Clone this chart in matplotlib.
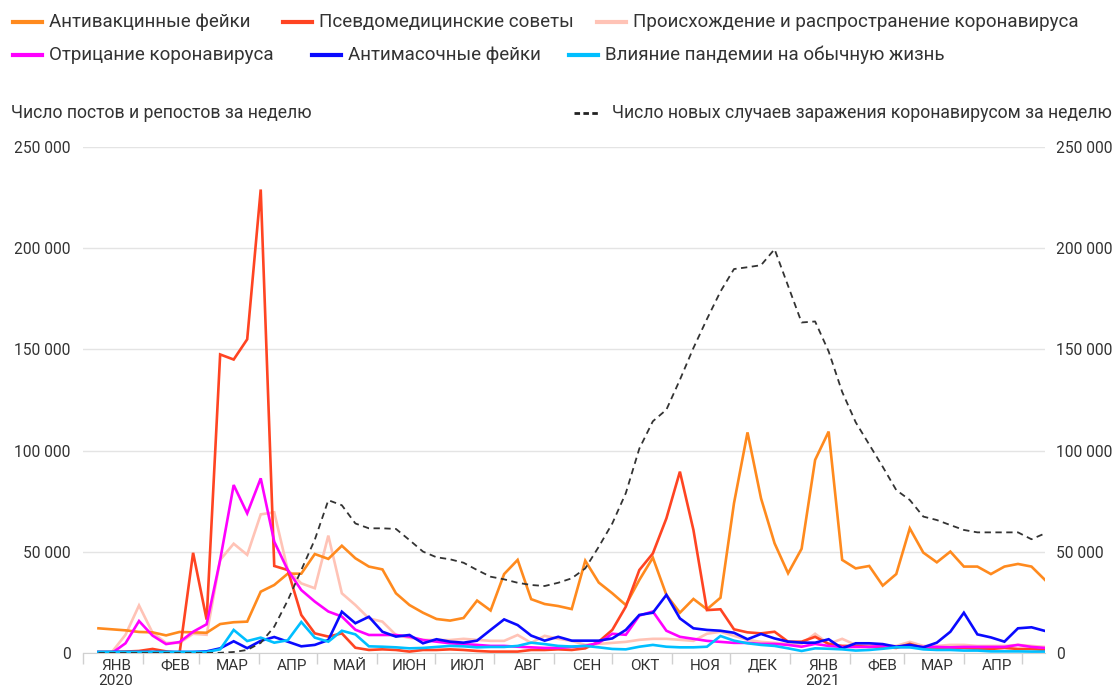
import numpy as np
import pandas as pd
import matplotlib
matplotlib.use('Agg')
import matplotlib.pyplot as plt
import matplotlib.dates as mdates
from matplotlib.lines import Line2D
from matplotlib.ticker import FuncFormatter

plt.rcParams['font.family'] = ['Roboto', 'DejaVu Sans']

# weekly points, Jan 2020 - May 2021
weeks = pd.date_range('2020-01-09', periods=71, freq='7D')

antivax = [12200, 11700, 11200, 10400, 10200, 8700, 10400, 10200, 10000, 14300,
           15200, 15500, 30300, 33600, 39200, 39200, 48900, 46500, 53000, 46800,
           42700, 41300, 29500, 23700, 19900, 16800, 16000, 17300, 25900, 21000,
           39000, 46000, 26600, 24200, 23200, 21700, 45600, 34800, 29500, 23700,
           36100, 47100, 28700, 19900, 26700, 21600, 27300, 74000, 109000, 76400,
           54200, 39400, 51500, 95400, 109400, 46000, 41800, 43000, 33300, 39000,
           61600, 49600, 44800, 50100, 42700, 42700, 39000, 42700, 44000, 42700,
           36100]
pseudo = [500, 500, 700, 1000, 2000, 800, 0, 49500, 16500, 147500,
          145000, 155000, 229000, 43000, 41000, 18800, 9700, 8100, 9700, 2600,
          1500, 1800, 1500, 700, 1500, 1500, 1800, 1500, 1000, 700,
          700, 700, 1500, 1500, 1800, 1500, 2300, 5600, 11400, 22900,
          41000, 49200, 66500, 89600, 60800, 21200, 21600, 11700, 10200, 9700,
          10500, 5600, 5600, 8000, 4500, 3500, 3500, 3000, 3000, 2500,
          4500, 2500, 2500, 2500, 2500, 2000, 2000, 2500, 2000, 2000,
          1500]
origin = [0, 500, 9000, 23500, 10000, 5000, 5000, 9500, 9000, 46000,
          54000, 48500, 68500, 69500, 41000, 34400, 32000, 58000, 29500, 23700,
          17100, 15500, 8900, 7500, 6500, 6400, 6400, 7000, 6500, 6000,
          6000, 8900, 5000, 8500, 7000, 6000, 4000, 4500, 5000, 5500,
          6500, 7000, 7000, 6500, 6000, 9500, 10500, 8500, 6500, 5500,
          5000, 4500, 4500, 9500, 4500, 7000, 4000, 4000, 3500, 3500,
          5500, 3500, 3500, 4000, 4000, 3500, 3500, 3500, 4000, 3500,
          3000]
denial = [0, 0, 4800, 15800, 8600, 4400, 5400, 10500, 14200, 46000,
          83000, 69000, 86300, 55000, 41000, 31100, 25400, 20500, 18000, 11500,
          8900, 8900, 8900, 8100, 6400, 5600, 4800, 4400, 4000, 3500,
          3500, 3100, 2800, 2500, 2500, 3000, 3500, 5000, 9500, 9000,
          18500, 20500, 11000, 8000, 7000, 6000, 5500, 5000, 5000, 4500,
          4500, 4000, 3100, 4500, 3500, 3000, 3000, 3000, 3500, 3000,
          3000, 3000, 3000, 2800, 3000, 3000, 3000, 3000, 4000, 3000,
          2500]
antimask = [500, 500, 500, 500, 500, 500, 500, 500, 800, 2300,
            5800, 2400, 6000, 7900, 5600, 3300, 4000, 6400, 20400, 14700,
            17900, 10500, 8100, 8900, 4800, 6800, 5600, 5100, 6100, 11400,
            16600, 13800, 8600, 6100, 8000, 6100, 6100, 6100, 7200, 11400,
            18800, 19900, 28700, 17100, 12200, 11400, 11000, 10000, 6800, 9400,
            7200, 5600, 5100, 5100, 6800, 2300, 4800, 4800, 4400, 3100,
            4000, 2800, 5100, 10500, 19900, 9200, 7700, 5600, 12200, 12700,
            10900]
daily_life = [500, 500, 500, 500, 500, 500, 500, 500, 500, 1800,
              11400, 5900, 7600, 5100, 6300, 15300, 7600, 5600, 11000, 9200,
              3300, 3100, 2800, 2300, 2500, 3000, 3500, 3300, 2800, 3000,
              3000, 3500, 5100, 4400, 3500, 3200, 3500, 2800, 2000, 1800,
              3100, 4000, 3100, 2800, 2800, 3100, 8400, 6100, 4800, 4000,
              3500, 2300, 1000, 2300, 2100, 1800, 1200, 1500, 2100, 2800,
              2800, 1800, 1500, 1500, 1200, 1200, 800, 800, 800, 700,
              700]
new_cases = [0, 0, 0, 0, 0, 0, 0, 0, 0, 100,
             500, 1500, 5000, 13000, 26000, 41000, 56000, 75500, 73000, 64000,
             61600, 61600, 61300, 55800, 50100, 47300, 46300, 44600, 41000, 37700,
             36400, 34700, 33600, 33100, 34700, 36900, 41800, 52500, 64000, 79000,
             101000, 114500, 120200, 135000, 150700, 165000, 178600, 189700, 190600, 191600,
             199500, 181400, 163300, 163800, 149000, 129000, 114000, 103000, 92000, 80500,
             75600, 67400, 65700, 63200, 60800, 59600, 59600, 59600, 59600, 56200,
             59100]

series_names = ['Антивакцинные фейки', 'Псевдомедицинские советы',
                'Происхождение и распространение коронавируса',
                'Отрицание коронавируса', 'Антимасочные фейки',
                'Влияние пандемии на обычную жизнь']
series_values = [antivax, pseudo, origin, denial, antimask, daily_life]
series_colors = ['#ff8a1e', '#ff4422', '#ffc3b6', '#ff00ff', '#0a0aff', '#00bfff']
series_z = [3, 4, 2, 5, 6, 7]

month_names = ['ЯНВ', 'ФЕВ', 'МАР', 'АПР', 'МАЙ', 'ИЮН',
               'ИЮЛ', 'АВГ', 'СЕН', 'ОКТ', 'НОЯ', 'ДЕК']
y_ticks = [0, 50000, 100000, 150000, 200000, 250000]
left_title = 'Число постов и репостов за неделю'
right_title = 'Число новых случаев заражения коронавирусом за неделю'

W, H = 1114, 692
fig = plt.figure(figsize=(W / 100, H / 100), dpi=100)
ax = fig.add_axes([83 / W, 1 - 653 / H, (1045 - 83) / W, (653 - 147) / H])

for vals, col, z in zip(series_values, series_colors, series_z):
    ax.plot(weeks, vals, color=col, lw=1.9, zorder=z, solid_joinstyle='miter')

ax.set_xlim(pd.Timestamp('2020-01-01'), weeks[-1])
ax.set_ylim(0, 250000)

fmt = FuncFormatter(lambda v, p: f'{int(v):,}'.replace(',', ' '))
ax.set_yticks(y_ticks)
ax.yaxis.set_major_formatter(fmt)
ax.yaxis.grid(True, color='#e4e4e4', lw=1)
ax.set_axisbelow(True)
ax.tick_params(axis='y', length=0, pad=9, labelsize=11.2, labelcolor='#333333')

# month boundaries as minor ticks, labels near the middle of each month
ax.xaxis.set_minor_locator(mdates.MonthLocator(bymonthday=1))
ax.xaxis.set_major_locator(mdates.MonthLocator(bymonthday=18))


def month_label(v, p):
    d = mdates.num2date(v)
    lab = month_names[d.month - 1]
    if d.month == 1:
        lab += '\n' + str(d.year)
    return lab


ax.xaxis.set_major_formatter(FuncFormatter(month_label))
ax.tick_params(axis='x', which='major', length=0, pad=4, labelsize=11, labelcolor='#333333')
ax.tick_params(axis='x', which='minor', length=8, width=1, color='#d0d0d0')
for lab in ax.get_xticklabels():
    lab.set_linespacing(1.1)

for s in ['top', 'right', 'left']:
    ax.spines[s].set_visible(False)
ax.spines['bottom'].set_color('#d0d0d0')

ax2 = ax.twinx()
ax2.plot(weeks, new_cases, color='#333333', lw=1.3, linestyle=(0, (3.5, 2.5)), zorder=8)
ax2.set_ylim(0, 250000)
ax2.set_yticks(y_ticks)
ax2.yaxis.set_major_formatter(fmt)
ax2.tick_params(axis='y', length=0, pad=8, labelsize=11.2, labelcolor='#333333')
for s in ax2.spines.values():
    s.set_visible(False)


def fx(px):
    return px / W


def fy(py):
    return 1 - py / H


# legend built by hand, it flows like text in the original
legend_pos = [(13, 22), (283, 22), (597, 22), (13, 55), (312, 55), (569, 55)]
for (px, py), name, col in zip(legend_pos, series_names, series_colors):
    fig.add_artist(Line2D([fx(px), fx(px + 29)], [fy(py), fy(py)], color=col, lw=3))
    fig.text(fx(px + 36), fy(py), name, fontsize=13.5, color='#333333', va='center')

fig.text(fx(11), fy(113), left_title, fontsize=12.7, color='#333333', va='center')
fig.add_artist(Line2D([fx(574), fx(600)], [fy(113), fy(113)], color='#222222', lw=2,
                      linestyle=(0, (2, 1.2))))
fig.text(fx(1112), fy(113), right_title, fontsize=12.7, color='#333333', va='center', ha='right')

fig.savefig('out.png', dpi=100)
